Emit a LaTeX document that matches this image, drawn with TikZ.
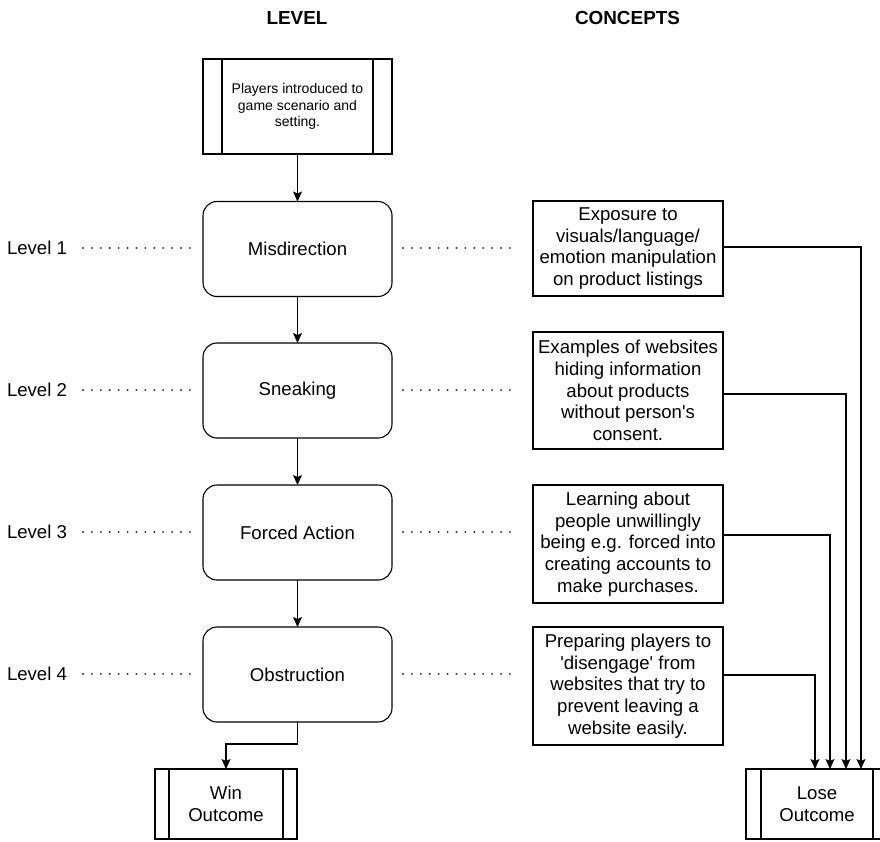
\documentclass[tikz,border=0pt]{standalone}
\usepackage{fontspec}
\setmainfont{Liberation Sans}
\usetikzlibrary{arrows.meta}
\begin{document}
\begin{tikzpicture}[x=1pt,y=-1pt,
  every node/.style={inner sep=0pt, outer sep=0pt, font=\fontsize{18.6}{21.7}\selectfont},
  lvlbox/.style={draw, line width=1.1pt, rounded corners=14pt, minimum width=189pt, minimum height=95pt},
  cbox/.style={draw, line width=1.1pt, minimum width=190pt, align=center},
  proc/.style={draw, line width=1.1pt, align=center},
  conn/.style={line width=1.1pt, -{Stealth[length=10pt,width=9pt,inset=2pt]}},
  dotline/.style={line width=2.1pt, dash pattern=on 0.01pt off 8.9pt, line cap=round, black!85},
  hdr/.style={font=\fontsize{18.9}{22}\selectfont\bfseries},
  lbl/.style={anchor=west}
]
\fill[white] (0,0) rectangle (880,841);
\clip (0,0) rectangle (880,841);

% headers
\node[hdr] (hlevel) at (297,18) {LEVEL};
\node[hdr] (hconc) at (627.5,18) {CONCEPTS};

% intro box
\node[proc, minimum width=189pt, minimum height=95pt, font=\fontsize{14}{16.7}\selectfont] (intro) at (297.5,106.5) {Players introduced to\\game scenario and\\setting.};
\draw[line width=1.1pt] ([xshift=19pt]intro.north west) -- ([xshift=19pt]intro.south west);
\draw[line width=1.1pt] ([xshift=-19pt]intro.north east) -- ([xshift=-19pt]intro.south east);

% level boxes
\node[lvlbox] (mis) at (297.5,249) {Misdirection};
\node[lvlbox] (sne) at (297.5,390.5) {Sneaking};
\node[lvlbox] (for) at (297.5,532.5) {Forced Action};
\node[lvlbox] (obs) at (297.5,674.5) {Obstruction};

% level labels
\node[lbl] (l1) at (7,248) {Level 1};
\node[lbl] (l2) at (7,390) {Level 2};
\node[lbl] (l3) at (7,532) {Level 3};
\node[lbl] (l4) at (7,674) {Level 4};

% concept boxes
\node[cbox, minimum height=95pt] (c1) at (628,248.5) {Exposure to\\visuals/language/\\emotion manipulation\\on product listings};
\node[cbox, minimum height=117pt] (c2) at (628,390.5) {Examples of websites\\hiding information\\about products\\without person\textquotesingle s\\consent.};
\node[cbox, minimum height=118pt] (c3) at (628,544) {Learning about\\people unwillingly\\being e.g. forced into\\creating accounts to\\make purchases.};
\node[cbox, minimum height=118pt] (c4) at (628,686) {Preparing players to\\\textquotesingle disengage\textquotesingle{} from\\websites that try to\\prevent leaving a\\website easily.};

% outcome boxes
\node[proc, minimum width=142pt, minimum height=70pt] (win) at (226,804) {Win\\Outcome};
\draw[line width=1.1pt] ([xshift=14pt]win.north west) -- ([xshift=14pt]win.south west);
\draw[line width=1.1pt] ([xshift=-14pt]win.north east) -- ([xshift=-14pt]win.south east);

\node[proc, minimum width=142pt, minimum height=70pt] (lose) at (817,804) {Lose\\Outcome};
\draw[line width=1.1pt] ([xshift=15pt]lose.north west) -- ([xshift=15pt]lose.south west);
\draw[line width=1.1pt] ([xshift=-15pt]lose.north east) -- ([xshift=-15pt]lose.south east);

% dotted guides
\foreach \y in {248,390,532,674} {
  \draw[dotline] (83,\y) -- (192,\y);
  \draw[dotline] (403,\y) -- (512,\y);
}

% flow arrows
\draw[conn] (intro.south) -- (mis.north);
\draw[conn] (mis.south) -- (sne.north);
\draw[conn] (sne.south) -- (for.north);
\draw[conn] (for.south) -- (obs.north);
\draw[conn] (obs.south) -- ++(0,22) -| (win.north);

% concept to lose
\draw[conn] ([yshift=1.5pt]c1.east) -| ([xshift=44pt]lose.north);
\draw[conn] ([yshift=-3.5pt]c2.east) -| ([xshift=29pt]lose.north);
\draw[conn] ([yshift=9pt]c3.east) -| ([xshift=13pt]lose.north);
\draw[conn] ([yshift=11pt]c4.east) -| ([xshift=-2pt]lose.north);
\end{tikzpicture}
\end{document}
